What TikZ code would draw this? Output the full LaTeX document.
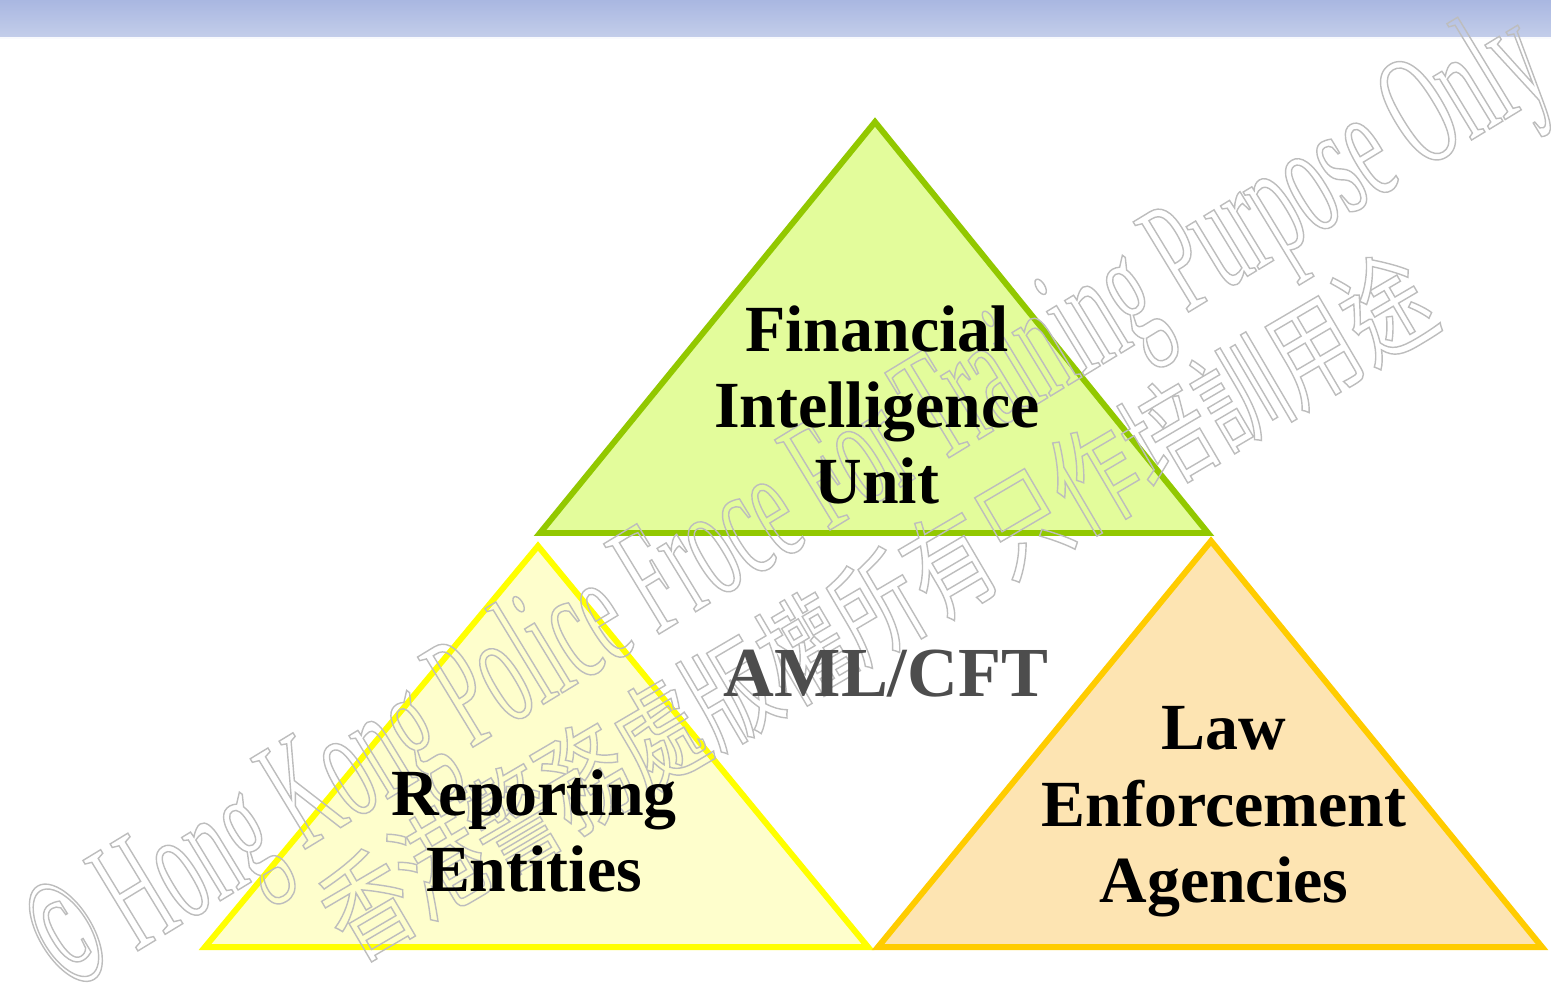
\documentclass[tikz,border=0pt]{standalone}
\usepackage{fontspec}
\setmainfont{Liberation Serif}
\newfontfamily\wmfont[FakeStretch=0.49]{Liberation Serif}
\newfontfamily\wmcjk[FakeStretch=0.75]{Noto Sans CJK TC}
\definecolor{bandtop}{HTML}{A9B7E1}
\definecolor{bandbot}{HTML}{C4CEEA}
\definecolor{fiuline}{HTML}{92C800}
\definecolor{fiufill}{HTML}{E3FC9B}
\definecolor{repline}{HTML}{FFFF00}
\definecolor{repfill}{HTML}{FEFECC}
\definecolor{lawline}{HTML}{FFCC00}
\definecolor{lawfill}{HTML}{FDE4B2}
\definecolor{amlgray}{HTML}{4D4D4D}
\definecolor{wmgray}{HTML}{BDBDBD}
\newcommand\outlined[1]{\special{pdf:literal direct 1 Tr 0.8 w}#1\special{pdf:literal direct 0 Tr}}
\begin{document}
\begin{tikzpicture}[x=0.02cm,y=-0.02cm,
  tri/.style={line width=3.4pt,line join=miter},
  label/.style={inner sep=0pt,align=center,font=\bfseries\fontsize{37.5}{43.5}\selectfont},
  wm/.style={inner sep=0pt,text=wmgray}]
\useasboundingbox (0,0) rectangle (1551,991);
\shade[top color=bandtop,bottom color=bandbot] (0,0) rectangle (1551,38);
\draw[white!90!bandbot,line width=1pt] (0,38) -- (1551,38);
% triangles
\coordinate (la) at (538,546); \coordinate (ll) at (205,947); \coordinate (lr) at (868,947);
\coordinate (ra) at (1211,541); \coordinate (rl) at (878,947); \coordinate (rr) at (1542,947);
\coordinate (ta) at (875,122); \coordinate (tl) at (540,533); \coordinate (tr) at (1208,533);
\filldraw[tri,draw=repline,fill=repfill] (la) -- (ll) -- (lr) -- cycle;
\filldraw[tri,draw=fiuline,fill=fiufill] (ta) -- (tl) -- (tr) -- cycle;
\filldraw[tri,draw=lawline,fill=lawfill] (ra) -- (rl) -- (rr) -- cycle;
% watermark
\node[wm,rotate=31.3,font=\wmfont\fontsize{92}{96}\selectfont] (wmen) at (792,508) {\outlined{© Hong Kong Police Froce For Training Purpose Only}};
\node[wm,rotate=30.4,font=\wmcjk\fontsize{64}{68}\selectfont] (wmzh) at (876,606) {\outlined{香港警務處版權所有只作培訓用途}};
% labels
\node[label] (fiu) at (877,405) {Financial\\Intelligence\\Unit};
\node[label] (rep) at (534,831) {Reporting\\Entities};
\node[label] (law) at (1224,812) {Law\\Enforcement\\Agencies};
\node[inner sep=0pt,text=amlgray,font=\bfseries\fontsize{40}{46}\selectfont] (aml) at (886,674) {AML/CFT};
\end{tikzpicture}
\end{document}
